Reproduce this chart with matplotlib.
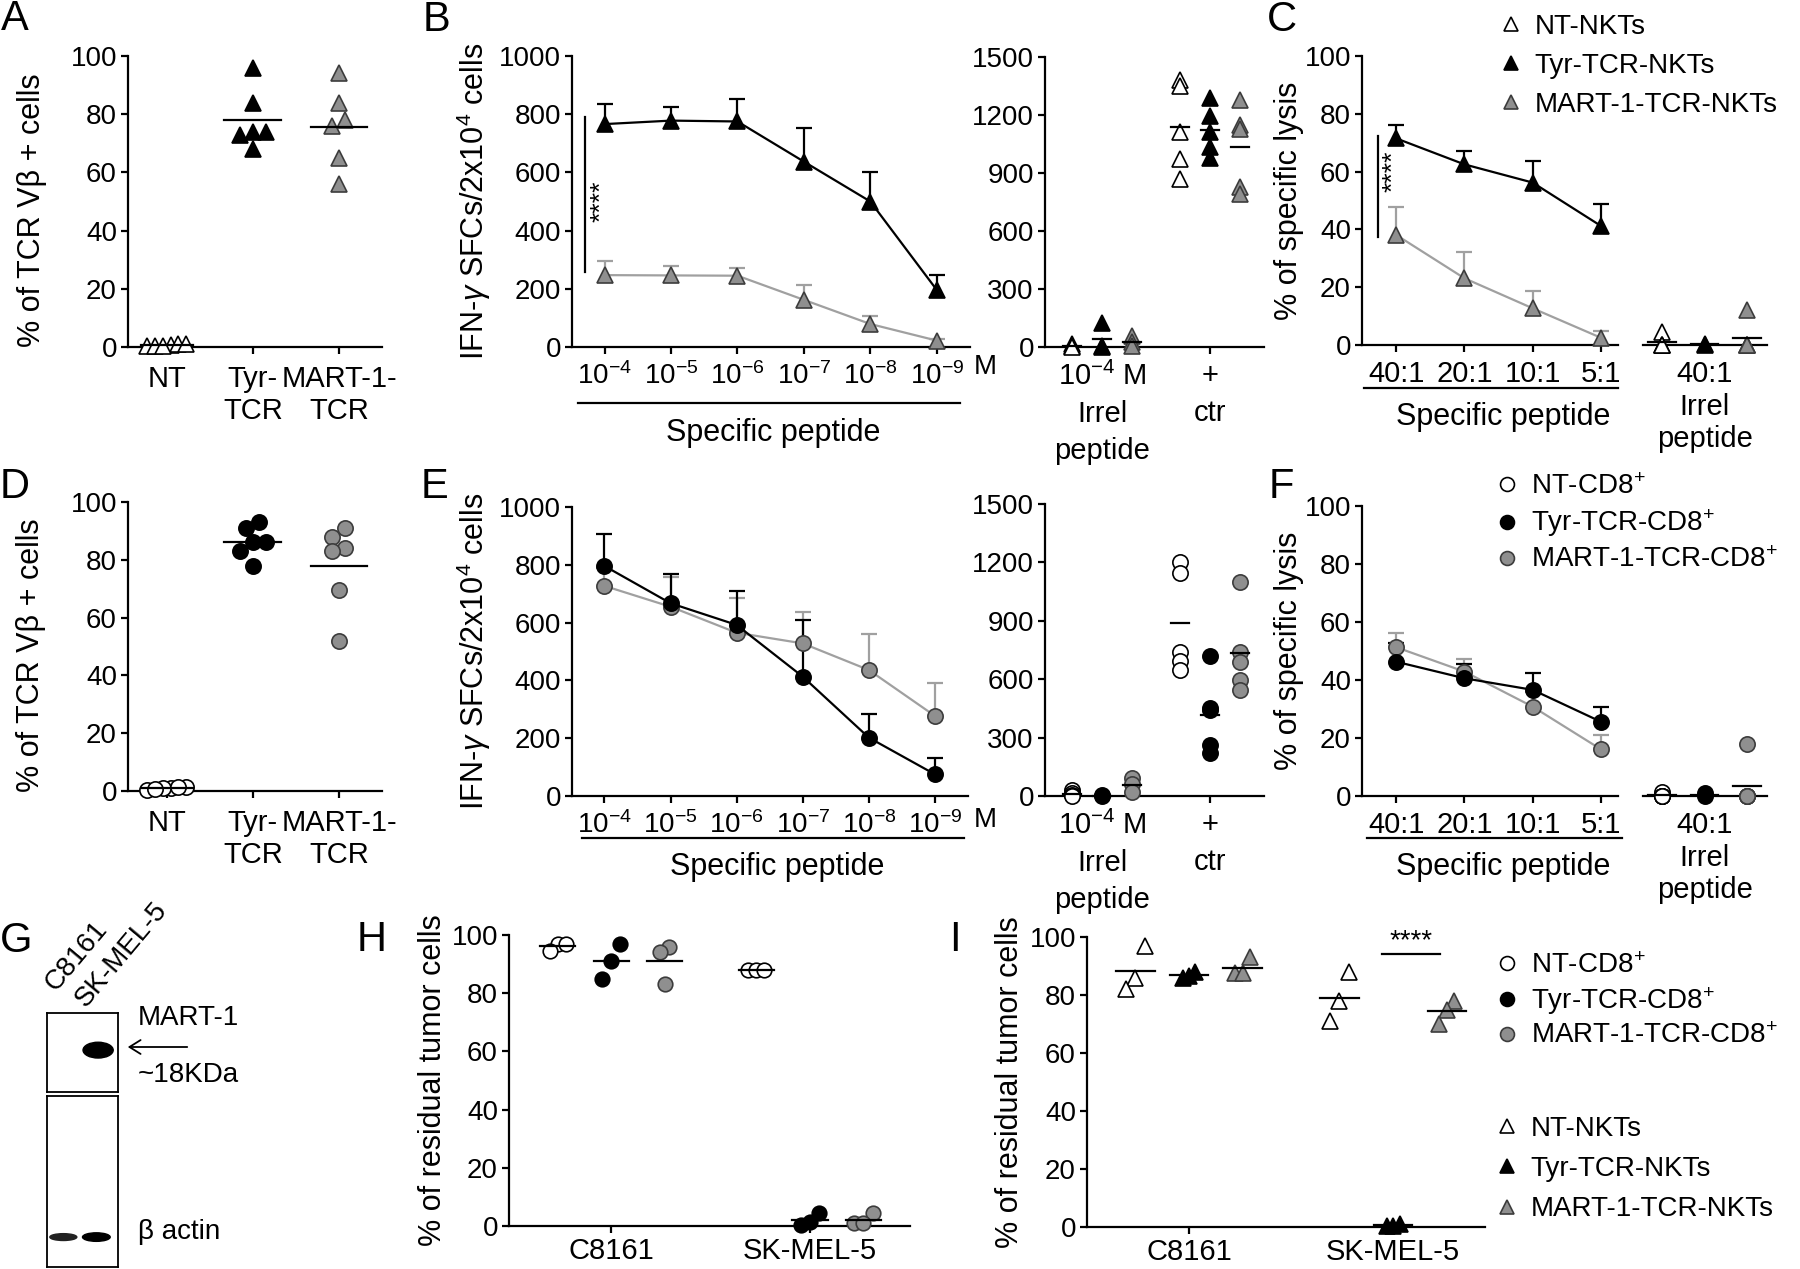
import numpy as np
import matplotlib
matplotlib.use('Agg')
import matplotlib.pyplot as plt
from matplotlib.lines import Line2D
from matplotlib.patches import Ellipse, FancyArrowPatch

plt.rcParams['font.family'] = ['Liberation Sans', 'DejaVu Sans']
plt.rcParams['mathtext.fontset'] = 'custom'
plt.rcParams['mathtext.rm'] = 'Liberation Sans'
plt.rcParams['mathtext.it'] = 'Liberation Sans:italic'
plt.rcParams['mathtext.bf'] = 'Liberation Sans:bold'

W, H = 1800, 1269
GRAY = '#8f8f8f'      # marker fill
GRAYLINE = '#a0a0a0'  # line / error bar
GRAYEDGE = '#3c3c3c'

# ---------------- data ----------------
cats = ['NT', 'Tyr-\nTCR', 'MART-1-\nTCR']
a_nt = [0.6, 0.2, 0.9, 0.3, 1.2, 0.5]
a_tyr = [96, 84, 74, 73, 74, 68]
a_mart = [94, 84, 76, 78, 65, 56]
d_nt = [1.2, 0.3, 1.0, 1.5, 1.4, 0.8]
d_tyr = [93, 91, 86, 86, 83, 78]
d_mart = [88, 91, 84, 83, 69.5, 52]

conc = ['$10^{-4}$', '$10^{-5}$', '$10^{-6}$', '$10^{-7}$', '$10^{-8}$', '$10^{-9}$']
b_tyr = [766, 778, 775, 637, 500, 196]
b_tyr_err = [69, 48, 77, 117, 102, 51]
b_mart = [247, 246, 245, 162, 79, 22]
b_mart_err = [49, 32, 25, 50, 29, 7]
b_irr_nt = [15, 5, 0]
b_irr_tyr = [125, 5, 0]
b_irr_mart = [55, 25, 5]
b_ctr_nt = [1380, 1350, 1114, 975, 867]
b_ctr_tyr = [1287, 1195, 1114, 1036, 976]
b_ctr_mart = [1278, 1150, 1130, 830, 790]

e_tyr = [796, 667, 592, 413, 202, 75]
e_tyr_err = [111, 100, 117, 196, 82, 55]
e_mart = [727, 655, 565, 528, 436, 277]
e_mart_err = [63, 103, 121, 109, 123, 113]
e_irr_nt = [30, 15, 5, 0]
e_irr_tyr = [5, 0]
e_irr_mart = [90, 60, 20]
e_ctr_nt = [1203, 1144, 742, 695, 647]
e_ctr_tyr = [719, 450, 440, 262, 222]
e_ctr_mart = [1100, 742, 690, 596, 544]

ratios = ['40:1', '20:1', '10:1', '5:1']
c_tyr = [71.5, 62.5, 56.2, 41.2]
c_tyr_err = [4.6, 4.7, 7.5, 7.5]
c_mart = [38.1, 23.1, 12.7, 2.5]
c_mart_err = [9.5, 9.0, 6.0, 2.3]
c_irr_nt = [4.5, 0, 0, 0]
c_irr_tyr = [0.4, 0]
c_irr_mart = [12, 0, 0, 0, 0]

f_tyr = [46.3, 40.6, 36.6, 25.6]
f_tyr_err = [6.3, 4.9, 5.9, 5.2]
f_mart = [51.3, 42.9, 30.8, 16.1]
f_mart_err = [4.8, 4.2, 5.1, 4.9]
f_irr_nt = [1.5, 0, 0, 0, 0]
f_irr_tyr = [1, 0]
f_irr_mart = [18, 0, 0, 0, 0]

cell_lines = ['C8161', 'SK-MEL-5']
h_nt = [[97, 97, 94.5], [88, 88, 88]]
h_tyr = [[97, 91, 85], [4.6, 1.5, 0.4]]
h_mart = [[96, 94, 83], [4.6, 0.9, 0.9]]
i_nt = [[97, 86, 82], [88, 78, 71]]
i_tyr = [[88, 86.5, 86], [1, 0.3, 0.3]]
i_mart = [[93, 87.5, 87.5], [78, 75, 70]]

nkt_names = ['NT-NKTs', 'Tyr-TCR-NKTs', 'MART-1-TCR-NKTs']
cd8_names = ['NT-CD8$^{+}$', 'Tyr-TCR-CD8$^{+}$', 'MART-1-TCR-CD8$^{+}$']

fig = plt.figure(figsize=(18, 12.69), dpi=100)


# ---------------- helpers ----------------
def px_ax(l, t, r, b):
    return fig.add_axes([l / W, 1 - b / H, (r - l) / W, (b - t) / H])


def prism(ax, ysize=20, xsize=21, xpad=6):
    for s in ('top', 'right'):
        ax.spines[s].set_visible(False)
    for s in ('left', 'bottom'):
        ax.spines[s].set_linewidth(1.6)
    ax.tick_params(direction='out', length=5, width=1.6, pad=3)
    ax.tick_params(axis='y', labelsize=ysize)
    ax.tick_params(axis='x', labelsize=xsize, pad=xpad)


def ylab(ax, text, x_px, size=22, yfrac=0.5):
    ax.set_ylabel(text, fontsize=size)
    ax.yaxis.label.set_va('center')
    bb = ax.get_position()
    ax.yaxis.set_label_coords((x_px / W - bb.x0) / bb.width, yfrac)


def ftext(x, y, s, **kw):
    kw.setdefault('fontsize', 21)
    kw.setdefault('ha', 'center')
    kw.setdefault('va', 'center')
    fig.text(x / W, 1 - y / H, s, **kw)


def fline(x0, x1, y):
    fig.add_artist(Line2D([x0 / W, x1 / W], [1 - y / H, 1 - y / H],
                          transform=fig.transFigure, color='black', lw=1.6))


def spread(vals, tol, step):
    vals = np.asarray(vals, float)
    order = np.argsort(vals, kind='stable')
    offs = np.zeros(len(vals))
    clusters = [[order[0]]]
    for i in order[1:]:
        if vals[i] - vals[clusters[-1][-1]] < tol:
            clusters[-1].append(i)
        else:
            clusters.append([i])
    for c in clusters:
        n = len(c)
        for k, i in enumerate(c):
            offs[i] = (k - (n - 1) / 2) * step
    return offs


def dots(ax, x, vals, marker, fc, tol, step, half, ms=11):
    vals = np.asarray(vals, float)
    ec = GRAYEDGE if fc == GRAY else 'black'
    xs = x + spread(vals, tol, step)
    ax.plot(xs, vals, ls='none', marker=marker, ms=ms, mfc=fc, mec=ec,
            mew=1.2, clip_on=False, zorder=3)
    m = vals.mean()
    ax.plot([x - half, x + half], [m, m], color='black', lw=1.6,
            clip_on=False, zorder=4)


def curve(ax, x, y, err, lc, marker, fc, ec):
    y = np.asarray(y, float)
    top = y + np.asarray(err, float)
    ax.vlines(x, y, top, color=lc, lw=1.6, zorder=2)
    ax.plot(x, top, ls='none', marker='_', ms=12, mew=1.6, color=lc,
            zorder=2, clip_on=False)
    ax.plot(x, y, color=lc, lw=1.6, marker=marker, ms=11, mfc=fc, mec=ec,
            mew=1.2, zorder=3, clip_on=False)


def legend_at(marker, names, x_px, y_px, spacing):
    fills = ['white', 'black', GRAY]
    hs = [Line2D([], [], ls='none', marker=marker, ms=10, mfc=f,
                 mec=GRAYEDGE if f == GRAY else 'black', mew=1.2) for f in fills]
    fig.legend(hs, names, loc='upper left', bbox_to_anchor=(x_px / W, 1 - y_px / H),
               frameon=False, fontsize=20, handlelength=0.8, handletextpad=0.45,
               labelspacing=spacing, borderpad=0, borderaxespad=0)


def scatter_panel(top, bottom, marker, nt, tyr, mart, label_x):
    ax = px_ax(128, top, 382, bottom)
    ax.set_xlim(-0.45, 2.5)
    ax.set_ylim(0, 100)
    ax.set_yticks(range(0, 101, 20))
    ax.set_xticks([0, 1, 2])
    ax.set_xticklabels(cats)
    prism(ax, xpad=8)
    dots(ax, 0, nt, marker, 'white', 3, 0.09, 0.3)
    dots(ax, 1, tyr, marker, 'black', 3.5, 0.15, 0.33)
    dots(ax, 2, mart, marker, GRAY, 3.5, 0.15, 0.33)
    ylab(ax, '% of TCR Vβ + cells', label_x, yfrac=0.47)
    return ax


def dose_panel(top, right, bottom, marker, tyr, tyr_err, mart, mart_err):
    ax = px_ax(572, top, right, bottom)
    x = np.arange(len(conc))
    ax.set_xlim(-0.49, 5.5)
    ax.set_ylim(0, 1000)
    ax.set_yticks(range(0, 1001, 200))
    ax.set_xticks(x)
    ax.set_xticklabels(conc)
    prism(ax, xsize=20, xpad=6)
    curve(ax, x, mart, mart_err, GRAYLINE, marker, GRAY, GRAYEDGE)
    curve(ax, x, tyr, tyr_err, 'black', marker, 'black', 'black')
    ylab(ax, r'IFN-$\gamma$ SFCs/2x10$^{4}$ cells', 474)
    return ax


def ctrl_panel(top, bottom, marker, irr, ctr):
    ax = px_ax(1045, top, 1264, bottom)
    ax.set_xlim(-1.9, 5.4)
    ax.set_ylim(0, 1500)
    ax.set_yticks(range(0, 1501, 300))
    centers = [0, 3.6]
    ax.set_xticks(centers)
    ax.set_xticklabels(['$10^{-4}$ M\nIrrel\npeptide', '+\nctr'], linespacing=1.4, va='top')
    prism(ax, xpad=6)
    fills = ['white', 'black', GRAY]
    for c, grp in zip(centers, (irr, ctr)):
        for j, (vals, fc) in enumerate(zip(grp, fills)):
            dots(ax, c + (j - 1) * 1.0, vals, marker, fc, 0, 0, 0.3)
    return ax


def lysis_panel(top, bottom, marker, tyr, tyr_err, mart, mart_err, irr):
    ax = px_ax(1362, top, 1618, bottom)
    x = np.arange(len(ratios))
    ax.set_xlim(-0.5, 3.25)
    ax.set_ylim(0, 100)
    ax.set_yticks(range(0, 101, 20))
    ax.set_xticks(x)
    ax.set_xticklabels(ratios)
    prism(ax, xpad=6)
    curve(ax, x, mart, mart_err, GRAYLINE, marker, GRAY, GRAYEDGE)
    curve(ax, x, tyr, tyr_err, 'black', marker, 'black', 'black')
    ylab(ax, '% of specific lysis', 1289)

    ax2 = px_ax(1643, top, 1767, bottom)
    ax2.set_xlim(-1.46, 1.48)
    ax2.set_ylim(0, 100)
    ax2.spines['left'].set_visible(False)
    ax2.set_yticks([])
    ax2.set_xticks([0])
    ax2.set_xticklabels(['40:1\nIrrel\npeptide'], linespacing=1.2, va='top')
    prism(ax2, xpad=11)
    ax2.tick_params(axis='x', length=0)
    for j, (vals, fc) in enumerate(zip(irr, ['white', 'black', GRAY])):
        dots(ax2, j - 1, vals, marker, fc, 0, 0, 0.33)
    return ax


def residual_panel(l, t, r, b, xlim, sk_center):
    ax = px_ax(l, t, r, b)
    ax.set_xlim(*xlim)
    ax.set_ylim(0, 100)
    ax.set_yticks(range(0, 101, 20))
    centers = [0, sk_center]
    ax.set_xticks(centers)
    ax.set_xticklabels(cell_lines)
    prism(ax, xpad=3)
    return ax, centers


# ---------------- A / D ----------------
scatter_panel(56, 347, '^', a_nt, a_tyr, a_mart, 32)
scatter_panel(502, 791, 'o', d_nt, d_tyr, d_mart, 31)

# ---------------- B ----------------
axB = dose_panel(56, 970, 347, '^', b_tyr, b_tyr_err, b_mart, b_mart_err)
axB.plot([-0.3, -0.3], [258, 790], color='black', lw=1.6)
axB.text(-0.04, 500, '****', rotation=90, ha='center', va='center', fontsize=19)
ftext(985, 367, 'M', fontsize=20)
fline(578, 960, 403)
ftext(773, 433, 'Specific peptide', fontsize=22)
ctrl_panel(57, 347, '^', (b_irr_nt, b_irr_tyr, b_irr_mart), (b_ctr_nt, b_ctr_tyr, b_ctr_mart))

# ---------------- E ----------------
dose_panel(507, 968, 796, 'o', e_tyr, e_tyr_err, e_mart, e_mart_err)
ftext(985, 820, 'M', fontsize=20)
fline(582, 964, 838)
ftext(777, 867, 'Specific peptide', fontsize=22)
ctrl_panel(504, 796, 'o', (e_irr_nt, e_irr_tyr, e_irr_mart), (e_ctr_nt, e_ctr_tyr, e_ctr_mart))

# ---------------- C ----------------
axC = lysis_panel(56, 345, '^', c_tyr, c_tyr_err, c_mart, c_mart_err,
                  (c_irr_nt, c_irr_tyr, c_irr_mart))
axC.plot([-0.27, -0.27], [37.3, 72.3], color='black', lw=1.6)
axC.text(-0.04, 60, '****', rotation=90, ha='center', va='center', fontsize=19)
fline(1364, 1618, 388)
ftext(1503, 417, 'Specific peptide', fontsize=22)
legend_at('^', nkt_names, 1500, 14, 0.46)

# ---------------- F ----------------
lysis_panel(506, 796, 'o', f_tyr, f_tyr_err, f_mart, f_mart_err,
            (f_irr_nt, f_irr_tyr, f_irr_mart))
fline(1367, 1622, 838)
ftext(1503, 867, 'Specific peptide', fontsize=22)
legend_at('o', cd8_names, 1496, 474, 0.28)

# ---------------- G (blot) ----------------
gtop = px_ax(47, 1013, 118, 1092)
gbot = px_ax(47, 1096, 118, 1267)
for g in (gtop, gbot):
    g.set_xlim(0, 2)
    g.set_ylim(0, 1)
    g.set_xticks([])
    g.set_yticks([])
    for s in g.spines.values():
        s.set_linewidth(1.3)
gtop.add_patch(Ellipse((1.44, 0.53), 0.85, 0.2, color='black'))
gbot.add_patch(Ellipse((0.46, 0.175), 0.76, 0.04, color='#222222'))
gbot.add_patch(Ellipse((1.39, 0.175), 0.78, 0.05, color='black'))
ftext(60, 996, 'C8161', rotation=50, rotation_mode='anchor', ha='left', va='bottom', fontsize=20)
ftext(90, 1012, 'SK-MEL-5', rotation=50, rotation_mode='anchor', ha='left', va='bottom', fontsize=20)
ftext(138, 1018, 'MART-1', ha='left', fontsize=20)
ftext(138, 1075, '~18KDa', ha='left', fontsize=20)
ftext(138, 1232, 'β actin', ha='left', fontsize=20)
fig.add_artist(FancyArrowPatch(
    (190 / W, 1 - 1047 / H), (125 / W, 1 - 1047 / H), transform=fig.transFigure,
    arrowstyle='->,head_length=8,head_width=5', lw=1.3, color='black'))

# ---------------- H ----------------
axH, cH = residual_panel(509, 935, 910, 1226, (-1.91, 5.58), 3.71)
for gi, c in enumerate(cH):
    dots(axH, c - 1, h_nt[gi], 'o', 'white', 4, 0.15, 0.33, ms=10.5)
    dots(axH, c, h_tyr[gi], 'o', 'black', 7, 0.17, 0.33, ms=10.5)
    dots(axH, c + 1, h_mart[gi], 'o', GRAY, 7, 0.17, 0.33, ms=10.5)
ylab(axH, '% of residual tumor cells', 433)

# ---------------- I ----------------
axI, cI = residual_panel(1087, 937, 1485, 1227, (-1.9, 5.51), 3.8)
for gi, c in enumerate(cI):
    dots(axI, c - 1, i_nt[gi], '^', 'white', 12, 0.18, 0.36)
    dots(axI, c, i_tyr[gi], '^', 'black', 4, 0.12, 0.36)
    dots(axI, c + 1, i_mart[gi], '^', GRAY, 6, 0.14, 0.36)
axI.plot([3.59, 4.67], [94, 94], color='black', lw=1.6)
axI.text(4.13, 98.4, '****', ha='center', va='center', fontsize=20)
ylab(axI, '% of residual tumor cells', 1010)
legend_at('o', cd8_names, 1496, 953, 0.23)
legend_at('^', nkt_names, 1496, 1116, 0.51)

# ---------------- panel letters ----------------
for letter, (x, y) in zip('ABCDEFGHI', [(15, 19), (436, 20), (1282, 20), (15, 487), (434, 487),
                                        (1281, 487), (16, 941), (372, 940), (955, 940)]):
    ftext(x, y, letter, fontsize=30)

fig.savefig('out.png', dpi=100, facecolor='white')
